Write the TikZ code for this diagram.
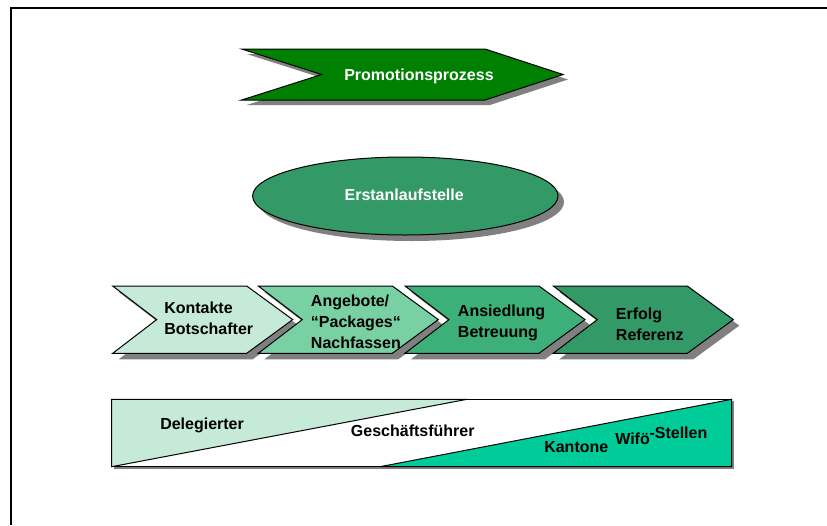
\documentclass[tikz,border=0pt]{standalone}
\usepackage{fontspec}
\setmainfont{Liberation Sans}
\definecolor{darkgreen}{HTML}{008000}
\definecolor{seagreen}{HTML}{339966}
\definecolor{mint}{HTML}{C6EAD8}
\definecolor{midgreen}{HTML}{79D1A3}
\definecolor{jade}{HTML}{3DAF78}
\definecolor{teal}{HTML}{00CC99}
\definecolor{shadowgrey}{HTML}{808080}
\begin{document}
\begin{tikzpicture}[x=0.75pt,y=-0.75pt,
  outline/.style={draw=black,line width=0.75pt,line join=miter},
  shade/.style={fill=shadowgrey},
  txt/.style={inner sep=0pt,anchor=base west,text=black,
    font=\bfseries\fontsize{12}{14}\selectfont},
  wtxt/.style={inner sep=0pt,anchor=base,text=white,
    font=\bfseries\fontsize{12}{14}\selectfont}]
\useasboundingbox (0,0) rectangle (827,525);

% page frame (left and top edges)
\draw[line width=1.5pt] (10.5,525) -- (10.5,7.5) -- (827,7.5);

% ---- process banner ----
\fill[shade] (246.7,54) -- (490,54) -- (568,79.5) -- (490,105) -- (246.7,105) -- (326.7,79.5) -- cycle;
\filldraw[fill=darkgreen,outline] (241.7,49) -- (485,49) -- (563,74.5) -- (485,100) -- (241.7,100) -- (321.7,74.5) -- cycle;
\node[wtxt] (promo) at (419,80.7) {Promotionsprozess};

% ---- first contact point ----
\fill[shade] (411.3,202) ellipse [x radius=152.7, y radius=39];
\filldraw[fill=seagreen,outline] (405.3,196) ellipse [x radius=152.7, y radius=39];
\node[wtxt] (erst) at (404.2,200) {Erstanlaufstelle};

% ---- process chevrons ----
\newcommand{\chevshadow}[1]{%
  \fill[shade] (#1+6,292) -- (#1+140,292) -- (#1+186,325.6) -- (#1+140,359.3)
    -- (#1+6,359.3) -- (#1+50,325.6) -- cycle;}
\newcommand{\chevbody}[2]{%
  \filldraw[fill=#2,outline] (#1,286) -- (#1+134,286) -- (#1+180,319.6) -- (#1+134,353.3)
    -- (#1,353.3) -- (#1+44,319.6) -- cycle;}
\chevshadow{112.7}\chevshadow{258.3}\chevshadow{405}\chevshadow{553.3}
\chevbody{112.7}{mint}
\chevbody{258.3}{midgreen}
\chevbody{405}{jade}
\chevbody{553.3}{seagreen}

\node[txt] (c1a) at (164,313.2) {Kontakte};
\node[txt] (c1b) at (164,334.5) {Botschafter};
\node[txt] (c2a) at (310.7,306.5) {Angebote/};
\node[txt] (c2b) at (310.7,327.5) {“Packages“};
\node[txt] (c2c) at (310.7,348.2) {Nachfassen};
\node[txt] (c3a) at (457.7,316.5) {Ansiedlung};
\node[txt] (c3b) at (457.7,337.5) {Betreuung};
\node[txt] (c4a) at (615.7,319.8) {Erfolg};
\node[txt] (c4b) at (615.7,340.8) {Referenz};

% ---- responsibility bar ----
\fill[shade] (113.7,401.3) rectangle (733.7,468.7);
\fill[white] (111.7,399.3) rectangle (731.7,466.7);
\filldraw[fill=mint,outline] (111.7,399.3) -- (467,399.3) -- (111.7,466.7) -- cycle;
\filldraw[fill=teal,outline] (380,466.7) -- (731.7,399.3) -- (731.7,466.7) -- cycle;
\draw[outline] (111.7,399.3) rectangle (731.7,466.7);

\node[txt] (deleg) at (160,429.5) {Delegierter};
\node[txt] (gf) at (350.7,436.7) {Geschäftsführer};
\node[txt] (kant) at (544,452.5) {Kantone};
\node[txt] (wifo) at (615,444.5) {Wifö};
\node[txt] (stellen) at (649.3,438) {-Stellen};
\end{tikzpicture}
\end{document}
